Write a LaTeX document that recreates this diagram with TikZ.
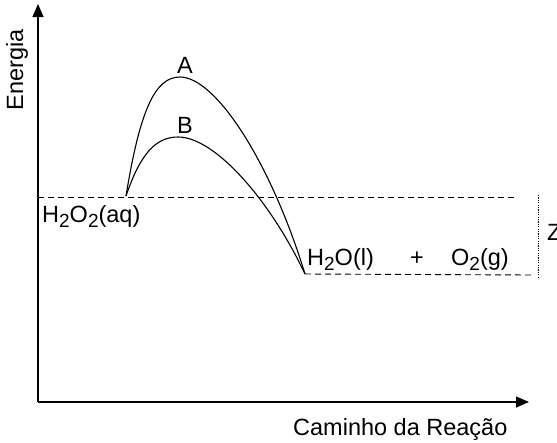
\documentclass[tikz,border=0pt]{standalone}
\usepackage{fontspec}
\setmainfont{Liberation Sans}
\usetikzlibrary{arrows.meta}
\newcommand{\sub}[1]{\raisebox{-5pt}{\fontsize{19}{20}\selectfont #1}}
\tikzset{
  axis/.style={line width=1.3pt,-{Triangle[length=13pt,width=11pt]}},
  curve/.style={line width=1.1pt},
  level/.style={line width=0.9pt,dash pattern=on 6pt off 4pt},
  gap/.style={line width=1pt,dash pattern=on 1.2pt off 1.2pt},
  lbl/.style={inner sep=0pt,font=\fontsize{23.5}{28}\selectfont}
}
\begin{document}
\begin{tikzpicture}[x=1pt,y=-1pt]
\useasboundingbox (0,0) rectangle (557,442);
\coordinate (O) at (38,402);
\coordinate (ytip) at (38,4);
\coordinate (xtip) at (529,402);
\coordinate (start) at (126,196);
\coordinate (pA) at (180,77);
\coordinate (pB) at (178,137);
\coordinate (stop) at (305,274);
\coordinate (hiL) at (38,197);
\coordinate (hiR) at (517,197);
\coordinate (loR) at (532,275);
\coordinate (zT) at (538,195);
\coordinate (zB) at (538,279);
% axes
\draw[axis] (O) -- (ytip);
\draw[axis] (O) -- (xtip);
% levels
\draw[level] (hiL) -- (hiR);
\draw[level] (stop) -- (loR);
\draw[gap] (zT) -- (zB);
% curves
\draw[curve] (start) .. controls (140,110) and (155,77) .. (pA)
  .. controls (215,77) and (270,160) .. (stop);
\draw[curve] (start) .. controls (140,155) and (155,137) .. (pB)
  .. controls (215,137) and (270,200) .. (stop);
% labels
\node[lbl,rotate=90] (en) at (17,70) {Energia};
\node[lbl] (A) at (185,65) {A};
\node[lbl] (B) at (185,125) {B};
\node[lbl,anchor=base west] (r) at (42,222) {H\sub{2}O\sub{2}(aq)};
\node[lbl,anchor=base west] (p1) at (307,265) {H\sub{2}O(l)};
\node[lbl,anchor=base] (plus) at (417,265) {+};
\node[lbl,anchor=base west] (p2) at (451,265) {O\sub{2}(g)};
\node[lbl,anchor=west] (Z) at (547,232) {Z};
\node[lbl,anchor=base west] (cam) at (293,435) {Caminho da Reação};
\end{tikzpicture}
\end{document}
